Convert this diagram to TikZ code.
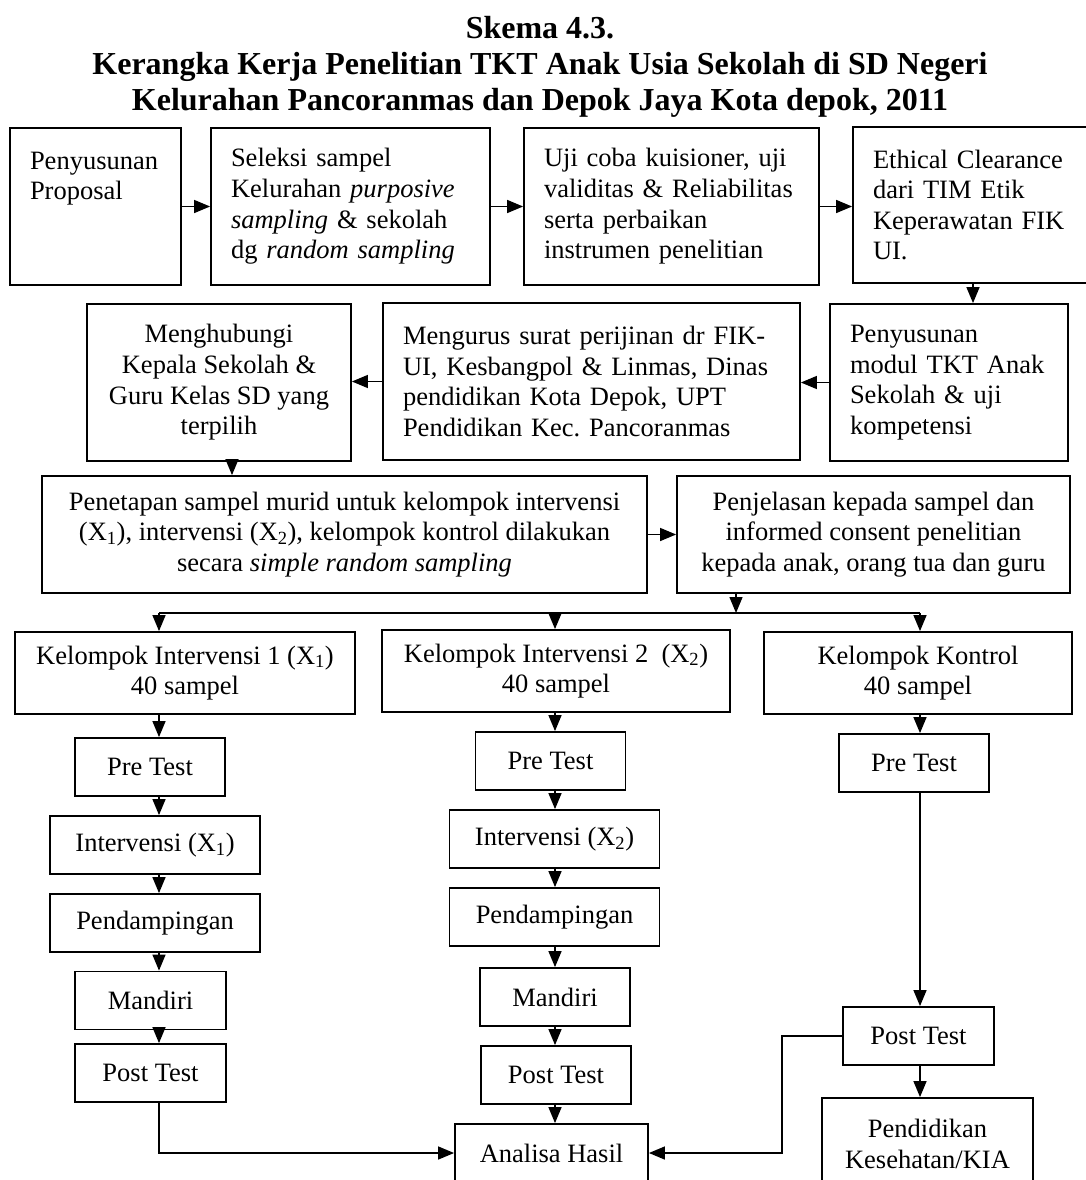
\documentclass[tikz,border=0pt]{standalone}
\usepackage{fontspec}
\setmainfont{Liberation Serif}
\usetikzlibrary{arrows.meta}

\begin{document}
\frenchspacing
\begin{tikzpicture}[x=1pt, y=-1pt,
  box/.style={draw, line width=1.8pt, fill=white, inner ysep=3pt,
    font=\fontsize{26.5}{30.6}\selectfont},
  lbox/.style={box, align=left, inner xsep=20pt},
  cbox/.style={box, align=center, inner xsep=8pt},
  arrow/.style={-{Triangle[length=16pt,width=13pt]}, line width=1.4pt},
  link/.style={line width=1.4pt}
]
  \useasboundingbox (0,0) rectangle (1086,1180);
  \clip (0,0) rectangle (1086,1180);

  % Title
  \node[font=\fontsize{32}{36}\selectfont\bfseries, align=center, anchor=north, inner sep=0pt] (title) at (540,16.5)
    {Skema 4.3.\\Kerangka Kerja Penelitian TKT Anak Usia Sekolah di SD Negeri\\Kelurahan Pancoranmas dan Depok Jaya Kota depok, 2011};

  % Persiapan
  \node[lbox, text width=131pt, minimum height=157pt] (prop) at (95.5,206.5) {Penyusunan\\Proposal\\\mbox{}\\\mbox{}};
  \node[lbox, text width=239pt, minimum height=157pt] (seleksi) at (350.5,206.5)
    {Seleksi sampel\\Kelurahan \textit{purposive}\\\textit{sampling} \& sekolah\\dg \textit{random sampling}};
  \node[lbox, text width=255pt, minimum height=157pt] (uji) at (671.5,206.5)
    {Uji coba kuisioner, uji\\validitas \& Reliabilitas\\serta perbaikan\\instrumen penelitian};
  \node[lbox, text width=202pt, minimum height=156pt] (ethical) at (974,205)
    {Ethical Clearance\\dari TIM Etik\\Keperawatan FIK\\UI.};

  \node[cbox, minimum width=264pt, minimum height=157pt] (hubungi) at (219,382.5)
    {Menghubungi\\Kepala Sekolah \&\\Guru Kelas SD yang\\terpilih};
  \node[lbox, text width=377pt, minimum height=157pt] (urus) at (591.5,381.5)
    {Mengurus surat perijinan dr FIK-\\UI, Kesbangpol \& Linmas, Dinas\\pendidikan Kota Depok, UPT\\Pendidikan Kec. Pancoranmas};
  \node[lbox, text width=198pt, minimum height=157pt] (modul) at (949,382.5)
    {Penyusunan\\modul TKT Anak\\Sekolah \& uji\\kompetensi};

  \node[cbox, minimum width=605pt, minimum height=117pt] (tetap) at (344.5,534.5)
    {Penetapan sampel murid untuk kelompok intervensi\\(X\textsubscript{1}), intervensi (X\textsubscript{2}), kelompok kontrol dilakukan\\secara \textit{simple random sampling}};
  \node[cbox, minimum width=393pt, minimum height=117pt] (jelas) at (873.5,534.5)
    {Penjelasan kepada sampel dan\\informed consent penelitian\\kepada anak, orang tua dan guru};

  % Kelompok
  \node[cbox, minimum width=340pt, minimum height=82pt] (k1) at (185,673) {Kelompok Intervensi 1 (X\textsubscript{1})\\40 sampel};
  \node[cbox, minimum width=348pt, minimum height=82pt] (k2) at (556,671) {Kelompok Intervensi 2~ (X\textsubscript{2})\\40 sampel};
  \node[cbox, minimum width=308pt, minimum height=82pt] (k3) at (918,673) {Kelompok Kontrol\\40 sampel};

  \node[cbox, minimum width=150pt, minimum height=58pt] (pre1) at (150,767) {Pre Test};
  \node[cbox, minimum width=210pt, minimum height=58pt] (int1) at (155,845) {Intervensi (X\textsubscript{1})};
  \node[cbox, minimum width=210pt, minimum height=58pt] (pend1) at (155,923) {Pendampingan};
  \node[cbox, minimum width=151pt, minimum height=58pt] (mandiri1) at (150.5,1000.5) {Mandiri};
  \node[cbox, minimum width=151pt, minimum height=58pt] (post1) at (150.5,1073) {Post Test};

  \node[cbox, minimum width=150pt, minimum height=58pt] (pre2) at (550.5,761) {Pre Test};
  \node[cbox, minimum width=210pt, minimum height=58pt] (int2) at (554.5,839) {Intervensi (X\textsubscript{2})};
  \node[cbox, minimum width=210pt, minimum height=58pt] (pend2) at (554.5,917) {Pendampingan};
  \node[cbox, minimum width=150pt, minimum height=58pt] (mandiri2) at (555,997) {Mandiri};
  \node[cbox, minimum width=150pt, minimum height=58pt] (post2) at (556,1075) {Post Test};

  \node[cbox, minimum width=150pt, minimum height=58pt] (pre3) at (914,763) {Pre Test};
  \node[cbox, minimum width=151pt, minimum height=58pt] (post3) at (918.5,1036) {Post Test};
  \node[cbox, minimum width=211pt, minimum height=92pt] (didik) at (927.5,1144) {Pendidikan\\Kesehatan/KIA};

  \node[cbox, minimum width=193pt, minimum height=58pt] (analisa) at (551.5,1153) {Analisa Hasil};

  % Alur
  \coordinate (colE) at (973,0);
  \coordinate (colM) at (232,0);
  \coordinate (col1) at (159,0);
  \coordinate (col2) at (555,0);
  \coordinate (col3) at (920,0);
  \coordinate (split) at (736,613);

  \draw[arrow] (prop.east) -- (seleksi.west);
  \draw[arrow] (seleksi.east) -- (uji.west);
  \draw[arrow] (uji.east) -- (uji.east -| ethical.west);
  \draw[arrow] (ethical.south -| colE) -- (modul.north -| colE);
  \draw[arrow] (modul.west) -- (modul.west -| urus.east);
  \draw[arrow] (urus.west) -- (urus.west -| hubungi.east);
  \draw[arrow] (hubungi.south -| colM) -- (tetap.north -| colM);
  \draw[arrow] (tetap.east) -- (jelas.west);

  \draw[link] (split -| col1) -- (split -| col3);
  \draw[arrow] (jelas.south -| split) -- (split);
  \foreach \b/\c in {k1/col1, k2/col2, k3/col3}
    \draw[arrow] (split -| \c) -- (\b.north -| \c);

  \foreach \a/\b/\c in {k1/pre1/col1, pre1/int1/col1, int1/pend1/col1, pend1/mandiri1/col1, mandiri1/post1/col1,
      k2/pre2/col2, pre2/int2/col2, int2/pend2/col2, pend2/mandiri2/col2, mandiri2/post2/col2, post2/analisa/col2,
      k3/pre3/col3, pre3/post3/col3, post3/didik/col3}
    \draw[arrow] (\a.south -| \c) -- (\b.north -| \c);

  \draw[arrow] (post1.south -| col1) |- (analisa.west);
  \draw[arrow] (post3.west) -- ++(-60,0) |- (analisa.east);
\end{tikzpicture}
\end{document}
